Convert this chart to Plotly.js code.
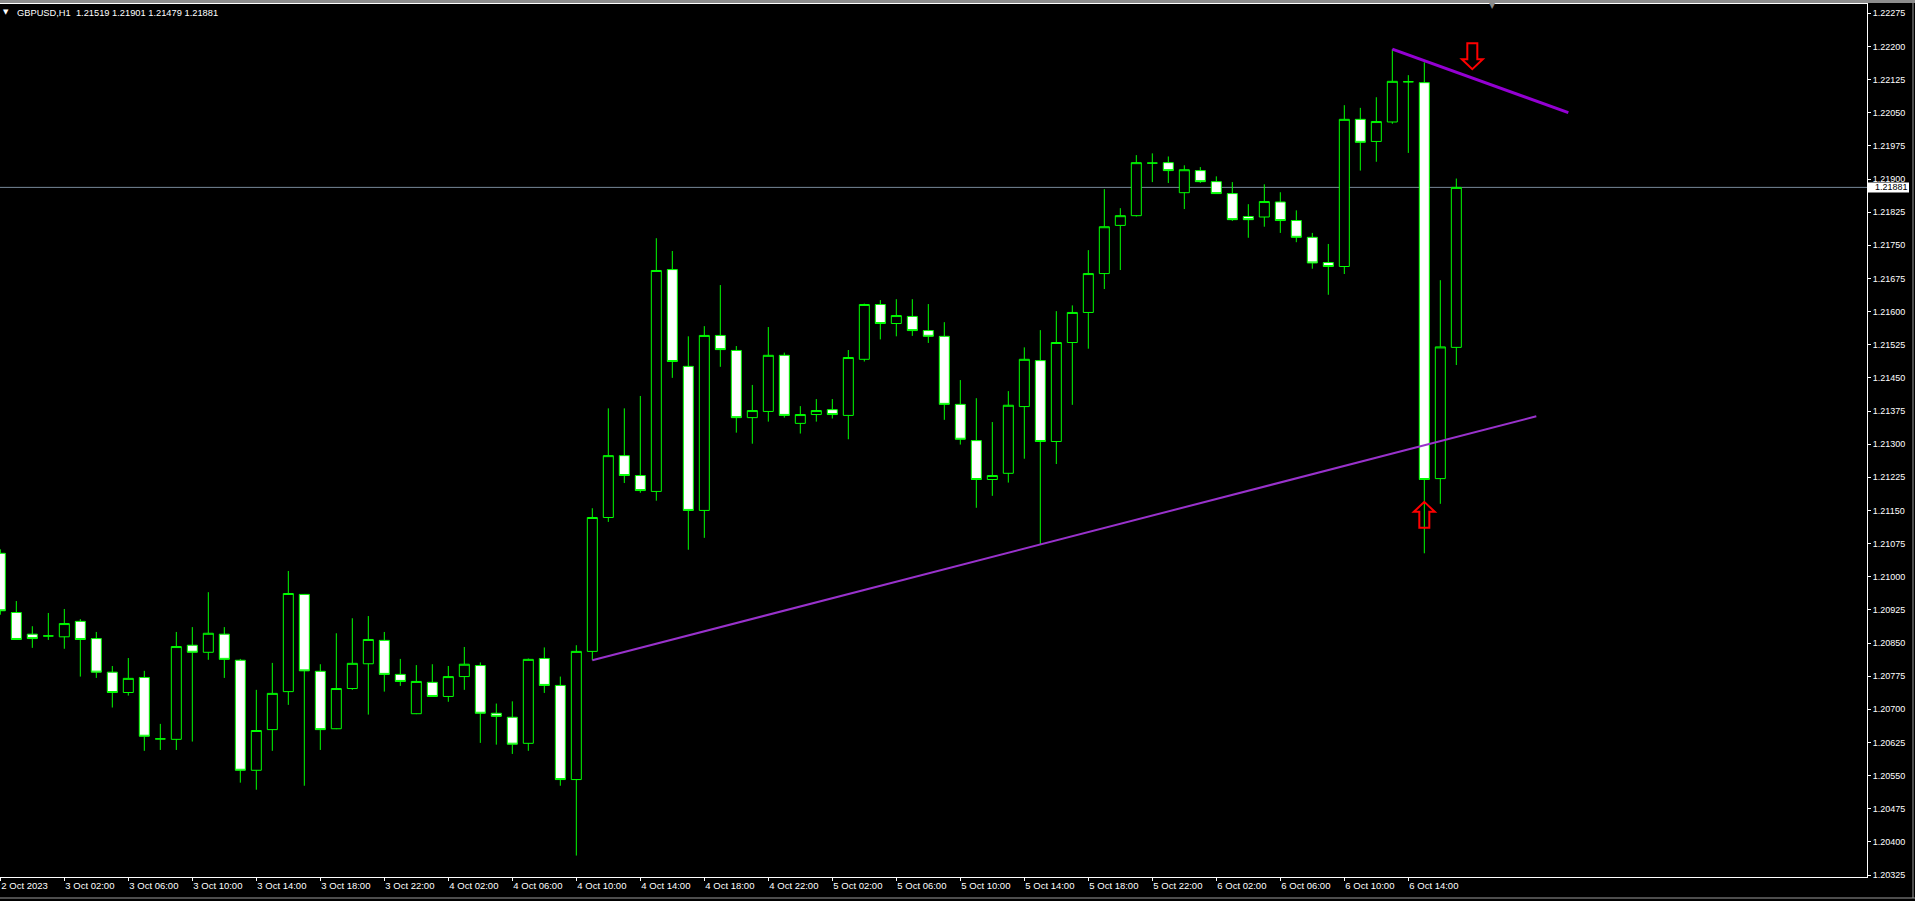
<!DOCTYPE html>
<html><head><meta charset="utf-8">
<script src="https://cdn.plot.ly/plotly-3.0.1.min.js"></script>
<style>html,body{margin:0;padding:0;background:#000;overflow:hidden}#chart{width:1915px;height:901px}</style>
</head><body><div id="chart"></div>
<script>
const symbolTitle = 'GBPUSD,H1  1.21519 1.21901 1.21479 1.21881';
const firstBarTime = '2023-10-02T22:00:00Z';

const openPrices = [
1.21053,1.20919,1.20870,1.20866,1.20864,1.20899,1.20860,1.20784,1.20738,1.20772,
1.20633,1.20632,1.20845,1.20829,1.20870,1.20811,1.20562,1.20654,1.20740,1.20960,
1.20786,1.20656,1.20747,1.20803,1.20856,1.20779,1.20690,1.20761,1.20729,1.20774,
1.20799,1.20691,1.20682,1.20623,1.20815,1.20754,1.20541,1.20831,1.21134,1.21274,
1.21229,1.21193,1.21695,1.21476,1.21150,1.21546,1.21512,1.21360,1.21374,1.21501,
1.21347,1.21367,1.21378,1.21365,1.21492,1.21616,1.21573,1.21589,1.21557,1.21544,
1.21390,1.21308,1.21220,1.21234,1.21385,1.21489,1.21306,1.21530,1.21598,1.21686,
1.21795,1.21817,1.21936,1.21937,1.21869,1.21919,1.21894,1.21867,1.21815,1.21814,
1.21848,1.21806,1.21768,1.21711,1.21702,1.22035,1.21985,1.22029,1.22120,1.22118,
1.21222,1.21519];
const highPrices = [
1.21062,1.20945,1.20888,1.20918,1.20927,1.20904,1.20875,1.20798,1.20816,1.20787,
1.20667,1.20875,1.20886,1.20965,1.20886,1.20814,1.20744,1.20805,1.21013,1.20961,
1.20802,1.20872,1.20906,1.20911,1.20875,1.20814,1.20800,1.20802,1.20798,1.20841,
1.20806,1.20713,1.20718,1.20815,1.20840,1.20774,1.20845,1.21155,1.21381,1.21381,
1.21409,1.21766,1.21737,1.21544,1.21567,1.21660,1.21522,1.21434,1.21565,1.21507,
1.21386,1.21402,1.21402,1.21513,1.21618,1.21626,1.21628,1.21628,1.21617,1.21576,
1.21445,1.21404,1.21350,1.21420,1.21519,1.21558,1.21601,1.21614,1.21739,1.21877,
1.21834,1.21954,1.21958,1.21951,1.21931,1.21927,1.21906,1.21893,1.21843,1.21888,
1.21870,1.21829,1.21778,1.21753,1.22067,1.22061,1.22085,1.22194,1.22135,1.22164,
1.21671,1.21901];
const lowPrices = [
1.20914,1.20857,1.20839,1.20857,1.20837,1.20774,1.20771,1.20704,1.20731,1.20606,
1.20608,1.20608,1.20627,1.20812,1.20771,1.20534,1.20518,1.20606,1.20710,1.20527,
1.20608,1.20655,1.20744,1.20688,1.20740,1.20753,1.20689,1.20729,1.20717,1.20744,
1.20624,1.20620,1.20599,1.20606,1.20737,1.20527,1.20369,1.20811,1.21124,1.21212,
1.21190,1.21172,1.21450,1.21061,1.21088,1.21475,1.21326,1.21301,1.21351,1.21360,
1.21324,1.21351,1.21358,1.21311,1.21487,1.21537,1.21544,1.21545,1.21529,1.21355,
1.21299,1.21156,1.21183,1.21213,1.21267,1.21073,1.21255,1.21389,1.21516,1.21651,
1.21694,1.21815,1.21893,1.21891,1.21832,1.21891,1.21866,1.21805,1.21767,1.21792,
1.21778,1.21757,1.21697,1.21638,1.21685,1.21919,1.21939,1.22025,1.21959,1.21053,
1.21165,1.21479];
const closePrices = [
1.20923,1.20858,1.20860,1.20866,1.20894,1.20858,1.20784,1.20738,1.20770,1.20639,
1.20633,1.20842,1.20829,1.20872,1.20813,1.20562,1.20652,1.20736,1.20962,1.20787,
1.20654,1.20747,1.20804,1.20858,1.20779,1.20763,1.20763,1.20729,1.20774,1.20802,
1.20691,1.20684,1.20621,1.20813,1.20754,1.20541,1.20831,1.21134,1.21274,1.21229,
1.21195,1.21693,1.21487,1.21150,1.21546,1.21514,1.21360,1.21376,1.21501,1.21365,
1.21367,1.21376,1.21367,1.21496,1.21616,1.21573,1.21591,1.21557,1.21544,1.21390,
1.21311,1.21220,1.21229,1.21388,1.21492,1.21306,1.21530,1.21598,1.21686,1.21792,
1.21817,1.21937,1.21936,1.21919,1.21921,1.21894,1.21867,1.21808,1.21808,1.21849,
1.21806,1.21768,1.21710,1.21702,1.22035,1.21983,1.22030,1.22121,1.22120,1.21220,
1.21520,1.21881];

const xTickBars = [0,4,8,12,16,20,24,28,32,36,40,44,48,52,56,60,64,68,72,76,80,84,88];
const xTickLabels = ['2 Oct 2023','3 Oct 02:00','3 Oct 06:00','3 Oct 10:00','3 Oct 14:00','3 Oct 18:00','3 Oct 22:00',
  '4 Oct 02:00','4 Oct 06:00','4 Oct 10:00','4 Oct 14:00','4 Oct 18:00','4 Oct 22:00',
  '5 Oct 02:00','5 Oct 06:00','5 Oct 10:00','5 Oct 14:00','5 Oct 18:00','5 Oct 22:00',
  '6 Oct 02:00','6 Oct 06:00','6 Oct 10:00','6 Oct 14:00'];
const priceTicks = [1.20325,1.20400,1.20475,1.20550,1.20625,1.20700,1.20775,1.20850,1.20925,1.21000,
  1.21075,1.21150,1.21225,1.21300,1.21375,1.21450,1.21525,1.21600,1.21675,1.21750,1.21825,
  1.21900,1.21975,1.22050,1.22125,1.22200,1.22275];

const lowerTrendBars = [37, 96];
const lowerTrendPrices = [1.20811, 1.21363];
const upperTrendBars = [87, 98];
const upperTrendPrices = [1.22194, 1.22050];
const arrowBars = [89, 92];
const arrowPrices = [1.21140, 1.22178];
const arrowDirections = ['up', 'down'];

const startMs = Date.parse(firstBarTime);
function barTime(i) {
  return new Date(startMs + i * 3600000).toISOString().slice(0, 23).replace('T', ' ');
}
const times = openPrices.map((_, i) => barTime(i));
const lastClose = closePrices[closePrices.length - 1];

const candle = {
  type: 'candlestick', x: times,
  open: openPrices, high: highPrices, low: lowPrices, close: closePrices,
  whiskerwidth: 0, hoverinfo: 'skip',
  increasing: {line: {color: '#00ff00', width: 1}, fillcolor: '#000000'},
  decreasing: {line: {color: '#00ff00', width: 1}, fillcolor: '#ffffff'}
};
const lowerTrend = {
  type: 'scatter', mode: 'lines', hoverinfo: 'skip',
  x: lowerTrendBars.map(barTime), y: lowerTrendPrices,
  line: {color: '#9932cc', width: 2}
};
const upperTrend = {
  type: 'scatter', mode: 'lines', hoverinfo: 'skip',
  x: upperTrendBars.map(barTime), y: upperTrendPrices,
  line: {color: '#9400d3', width: 3}
};

const upPath = 'M 0 13 L 10.5 3 L 5 3 L 5 -13 L -5 -13 L -5 3 L -10.5 3 Z';
const downPath = 'M 0 -13 L 10.5 -3 L 5 -3 L 5 13 L -5 13 L -5 -3 L -10.5 -3 Z';

const plotW = 1867, plotH = 873, plotTop = 4;
const pxY = p => (plotTop + plotH - p) / plotH; // full-pixel y -> paper y

const shapes = [
  {type: 'line', xref: 'paper', x0: 0, x1: 1, yref: 'y', y0: lastClose, y1: lastClose,
   line: {color: '#778899', width: 1}, layer: 'below'},
  {type: 'rect', xref: 'paper', x0: 1 + 1 / plotW, x1: 1 + 42 / plotW,
   yref: 'y', ysizemode: 'pixel', yanchor: lastClose, y0: -5, y1: 5,
   fillcolor: '#ffffff', line: {width: 0}, layer: 'above'},
  {type: 'rect', xref: 'paper', x0: 0, x1: 1915 / plotW, yref: 'paper', y0: pxY(3), y1: pxY(0),
   fillcolor: '#8c8c8c', line: {width: 0}, layer: 'above'},
  {type: 'line', xref: 'paper', x0: 0, x1: 1915 / plotW, yref: 'paper', y0: pxY(898), y1: pxY(898),
   line: {color: '#9a9a9a', width: 1}, layer: 'above'},
  {type: 'line', xref: 'paper', x0: 1913 / plotW, x1: 1913 / plotW, yref: 'paper', y0: pxY(898), y1: pxY(3),
   line: {color: '#9a9a9a', width: 1}, layer: 'above'}
];
arrowBars.forEach((b, k) => {
  shapes.push({type: 'path', xref: 'x', yref: 'y', xsizemode: 'pixel', ysizemode: 'pixel',
    xanchor: barTime(b), yanchor: arrowPrices[k],
    path: arrowDirections[k] === 'up' ? upPath : downPath,
    line: {color: '#ff0000', width: 2}, fillcolor: 'rgba(0,0,0,0)', layer: 'above'});
});

const font = 'Liberation Sans, Arial, sans-serif';
const annotations = [
  {xref: 'paper', yref: 'paper', x: 15 / plotW, y: pxY(12.7), xanchor: 'left', yanchor: 'middle',
   text: symbolTitle, showarrow: false, font: {family: font, size: 9.3, color: '#ffffff'}},
  {xref: 'paper', yref: 'paper', x: 6 / plotW, y: pxY(12.5), xanchor: 'center', yanchor: 'middle',
   text: '▼', showarrow: false, font: {family: 'DejaVu Sans', size: 7, color: '#ffffff'}},
  {xref: 'paper', yref: 'paper', x: 1492 / plotW, y: pxY(6), xanchor: 'center', yanchor: 'middle',
   text: '▼', showarrow: false, font: {family: 'DejaVu Sans', size: 8, color: '#8c8c8c'}},
  {xref: 'paper', yref: 'y', x: 1, y: lastClose, xanchor: 'left', yanchor: 'middle', xshift: 6,
   text: lastClose.toFixed(5), showarrow: false, font: {family: font, size: 9, color: '#000000'}}
];

const layout = {
  width: 1915, height: 901,
  paper_bgcolor: '#000000', plot_bgcolor: '#000000',
  margin: {l: 0, r: 48, t: plotTop, b: 901 - plotTop - plotH, pad: 0},
  showlegend: false, dragmode: false,
  boxgap: 0.375, boxgroupgap: 0,
  xaxis: {
    type: 'date', range: [barTime(-0.02), barTime(-0.02 + plotW / 16)],
    rangeslider: {visible: false}, showgrid: false, zeroline: false,
    showline: true, mirror: true, linecolor: '#ffffff', linewidth: 1,
    ticks: 'outside', ticklen: 3, tickcolor: '#ffffff',
    tickmode: 'array', tickvals: xTickBars.map(barTime), ticktext: xTickLabels,
    ticklabelposition: 'outside right',
    tickfont: {family: font, size: 9.5, color: '#ffffff'}, fixedrange: true
  },
  yaxis: {
    side: 'right', range: [1.203205, 1.22296],
    showgrid: false, zeroline: false, showline: true, linecolor: '#ffffff', linewidth: 1,
    ticks: 'outside', ticklen: 3, tickcolor: '#ffffff',
    tickmode: 'array', tickvals: priceTicks, ticktext: priceTicks.map(v => v.toFixed(5)),
    tickfont: {family: font, size: 9, color: '#ffffff'}, fixedrange: true
  },
  shapes: shapes, annotations: annotations
};

Plotly.newPlot('chart', [candle, lowerTrend, upperTrend], layout, {displayModeBar: false, staticPlot: true});
</script></body></html>
